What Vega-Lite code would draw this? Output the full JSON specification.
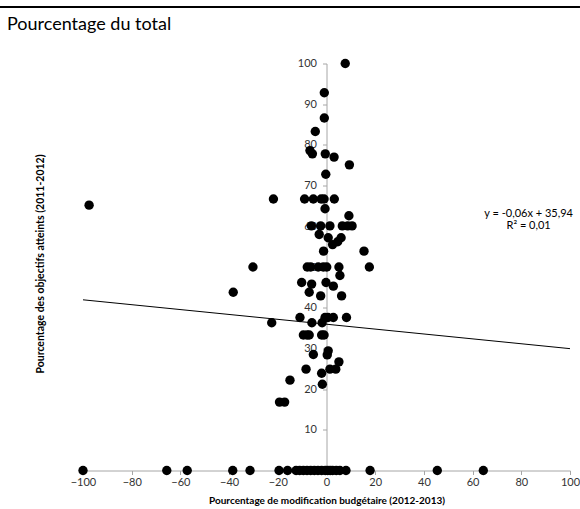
{
  "$schema": "https://vega.github.io/schema/vega-lite/v6.json",
  "width": 487,
  "height": 407,
  "autosize": {"type": "none"},
  "padding": {"left": 83, "top": 63.5, "right": 10, "bottom": 38.5},
  "background": "white",
  "config": {"view": {"stroke": null}, "font": "Lato"},
  "title": {"text": "Pourcentage du total", "anchor": "start", "frame": "group", "dx": -76, "dy": 42, "offset": 0, "baseline": "alphabetic", "fontSize": 18, "fontWeight": "normal", "color": "black", "font": "Lato"},
  "layer": [
    {
      "data": {"values": [{}]},
      "mark": {"type": "rule", "color": "black", "strokeWidth": 2, "clip": false},
      "encoding": {
        "y": {"datum": 113.9, "type": "quantitative"},
        "x": {"datum": -134.1, "type": "quantitative"},
        "x2": {"datum": 104.1}
      }
    },
    {
      "data": {"values": [
        {"x": 7.7, "y": 100}, {"x": -0.9, "y": 92.8}, {"x": -0.9, "y": 86.6}, {"x": -4.6, "y": 83.3},
        {"x": -6.8, "y": 78.6}, {"x": -5.8, "y": 77.8}, {"x": -0.5, "y": 77.8}, {"x": 3.1, "y": 77.0},
        {"x": 9.4, "y": 75.1}, {"x": -0.3, "y": 72.8},
        {"x": -21.8, "y": 66.7}, {"x": -9.0, "y": 66.7}, {"x": -5.4, "y": 66.7}, {"x": -2.2, "y": 66.7}, {"x": -1.0, "y": 66.7}, {"x": 3.2, "y": 66.7},
        {"x": -97.5, "y": 65.2}, {"x": -0.6, "y": 64.3}, {"x": 9.2, "y": 62.6},
        {"x": -6.2, "y": 60.1}, {"x": -2.4, "y": 60.1}, {"x": 1.4, "y": 60.1}, {"x": 6.5, "y": 60.1}, {"x": 8.7, "y": 60.1}, {"x": 10.5, "y": 60.1},
        {"x": -3.0, "y": 58.0}, {"x": 0.7, "y": 57.2}, {"x": 6.0, "y": 57.2}, {"x": 4.6, "y": 56.2}, {"x": 2.5, "y": 55.5},
        {"x": -1.2, "y": 53.9}, {"x": 15.4, "y": 53.9},
        {"x": -30.2, "y": 50}, {"x": -7.9, "y": 50}, {"x": -6.5, "y": 50}, {"x": -3.4, "y": 50}, {"x": -1.3, "y": 50}, {"x": 0.1, "y": 50}, {"x": 5.1, "y": 50}, {"x": 17.6, "y": 50},
        {"x": 5.5, "y": 47.9}, {"x": -10.2, "y": 46.2}, {"x": -6.1, "y": 45.8}, {"x": -0.2, "y": 46.2}, {"x": 2.8, "y": 45.3},
        {"x": -38.3, "y": 43.8}, {"x": -7.1, "y": 43.8}, {"x": -2.4, "y": 42.9}, {"x": 6.2, "y": 42.9},
        {"x": -10.9, "y": 37.6}, {"x": -0.6, "y": 37.6}, {"x": 0.6, "y": 37.6}, {"x": 2.8, "y": 37.6}, {"x": 8.2, "y": 37.6},
        {"x": -22.5, "y": 36.3}, {"x": -6.0, "y": 36.3}, {"x": -1.8, "y": 36.3},
        {"x": -9.5, "y": 33.3}, {"x": -8.0, "y": 33.3}, {"x": -7.1, "y": 33.3}, {"x": -2.0, "y": 33.3}, {"x": -1.0, "y": 33.3},
        {"x": 0.7, "y": 29.4}, {"x": -5.4, "y": 28.5}, {"x": 0.3, "y": 28.4}, {"x": 5.1, "y": 26.7},
        {"x": -8.4, "y": 24.9}, {"x": 1.4, "y": 24.9}, {"x": 3.8, "y": 24.9}, {"x": -2.0, "y": 23.9},
        {"x": -15.0, "y": 22.2}, {"x": -1.7, "y": 21.2}, {"x": -19.3, "y": 16.8}, {"x": -17.2, "y": 16.8},
        {"x": -100, "y": 0}, {"x": -65.6, "y": 0}, {"x": -57.2, "y": 0}, {"x": -38.5, "y": 0}, {"x": -31.4, "y": 0},
        {"x": -19.5, "y": 0}, {"x": -16.0, "y": 0}, {"x": -12.5, "y": 0}, {"x": -11.0, "y": 0}, {"x": -9.5, "y": 0},
        {"x": -8.0, "y": 0}, {"x": -6.5, "y": 0}, {"x": -5.0, "y": 0}, {"x": -3.5, "y": 0}, {"x": -2.0, "y": 0},
        {"x": -0.5, "y": 0}, {"x": 0.5, "y": 0}, {"x": 1.5, "y": 0}, {"x": 2.5, "y": 0}, {"x": 4.0, "y": 0},
        {"x": 5.5, "y": 0}, {"x": 8.0, "y": 0}, {"x": 17.9, "y": 0}, {"x": 45.5, "y": 0}, {"x": 64.4, "y": 0}
      ]},
      "mark": {"type": "point", "filled": true, "color": "black", "size": 88, "opacity": 1, "strokeWidth": 0},
      "encoding": {
        "x": {"field": "x", "type": "quantitative",
              "scale": {"domain": [-100, 100], "nice": false, "zero": false},
              "axis": {"values": [-100, -80, -60, -40, -20, 0, 20, 40, 60, 80, 100], "grid": false, "labelFlush": false,
                       "domainColor": "#a6a6a6", "tickColor": "#a6a6a6", "tickSize": 4,
                       "labelFontSize": 11, "labelColor": "#333333", "labelPadding": 2, "labelFont": "Lato",
                       "title": "Pourcentage de modification budgétaire (2012-2013)",
                       "titleFontSize": 10, "titleFontWeight": "bold", "titleColor": "black", "titleFont": "Lato", "titlePadding": 8}},
        "y": {"field": "y", "type": "quantitative",
              "scale": {"domain": [0, 100], "nice": false, "zero": false},
              "axis": {"values": [10, 20, 30, 40, 50, 60, 70, 80, 90, 100], "grid": false, "offset": -243.5, "labelFlush": false,
                       "domainColor": "#a6a6a6", "tickColor": "#a6a6a6", "tickSize": 4,
                       "labelFontSize": 11, "labelColor": "#333333", "labelPadding": 6, "labelFont": "Lato",
                       "title": "Pourcentage des objectifs atteints (2011-2012)",
                       "titleFontSize": 10.5, "titleFontWeight": "bold", "titleColor": "black", "titleFont": "Lato",
                       "titleX": -281, "titleY": 200, "titleAngle": -90}}
      }
    },
    {
      "data": {"values": [{"tx": -100, "ty": 41.94}, {"tx": 100, "ty": 29.94}]},
      "mark": {"type": "line", "color": "black", "strokeWidth": 1},
      "encoding": {
        "x": {"field": "tx", "type": "quantitative"},
        "y": {"field": "ty", "type": "quantitative"}
      }
    },
    {
      "data": {"values": [{}]},
      "mark": {"type": "text", "align": "center", "baseline": "top", "fontSize": 11, "font": "Lato", "color": "black", "lineHeight": 12},
      "encoding": {
        "x": {"datum": 83},
        "y": {"datum": 64.5},
        "text": {"value": ["y = -0,06x + 35,94", "R² = 0,01"]}
      }
    }
  ]
}
